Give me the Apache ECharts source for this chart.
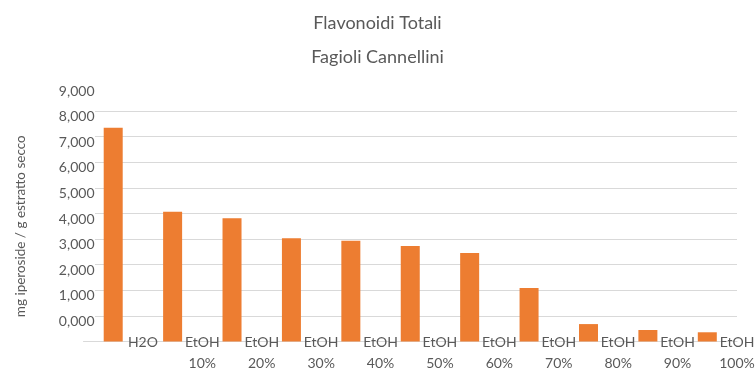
<!DOCTYPE html>
<html>
<head>
<meta charset="utf-8">
<title>Flavonoidi Totali - Fagioli Cannellini</title>
<script src="https://cdn.jsdelivr.net/npm/echarts@6/dist/echarts.min.js"></script>
<style>
  html, body { margin: 0; padding: 0; background: #ffffff; }
  #chart { width: 755px; height: 371px; }
</style>
</head>
<body>
<div id="chart"></div>
<script>
// Estratti: acqua e etanolo a concentrazioni crescenti
const categories = ['H2O', 'EtOH\n10%', 'EtOH\n20%', 'EtOH\n30%', 'EtOH\n40%', 'EtOH\n50%',
                    'EtOH\n60%', 'EtOH\n70%', 'EtOH\n80%', 'EtOH\n90%', 'EtOH\n100%'];
// mg iperoside / g estratto secco
const flavonoidi = [8.35, 5.07, 4.81, 4.03, 3.93, 3.73, 3.46, 2.09, 0.68, 0.45, 0.36];
const yMin = 0, yMax = 9, yStep = 1;

const textColor = '#595959';
const gridColor = '#d9d9d9';
const fontFamily = 'Lato, "Open Sans", sans-serif';

const gridLeft = 83.5, gridRight = 18, gridTop = 111, gridBottom = 29.5;
const catWidth = (755 - gridLeft - gridRight) / categories.length;

const chart = echarts.init(document.getElementById('chart'));
chart.setOption({
  animation: false,
  title: {
    text: 'Flavonoidi Totali\nFagioli Cannellini',
    left: 'center',
    top: 1,
    textStyle: { color: textColor, fontFamily, fontSize: 18, fontWeight: 'normal', lineHeight: 34 }
  },
  grid: [
    // bars, category axis and baseline
    { left: gridLeft, right: gridRight, top: gridTop, bottom: gridBottom, outerBoundsMode: 'none' },
    // value scale: gridlines and tick labels, starting right of the labels
    { left: 95, right: gridRight, top: gridTop, bottom: gridBottom, outerBoundsMode: 'none' }
  ],
  xAxis: [{
    type: 'category',
    gridIndex: 0,
    data: categories,
    boundaryGap: true,
    axisTick: { show: false },
    axisLine: { lineStyle: { color: gridColor, width: 1 } },
    axisLabel: {
      interval: 0,
      color: textColor,
      fontFamily,
      fontSize: 14,
      lineHeight: 21,
      margin: -10,
      padding: [0, 0, 0, catWidth]
    }
  }, {
    type: 'value',
    gridIndex: 1,
    show: false
  }],
  yAxis: [{
    type: 'value',
    gridIndex: 0,
    min: yMin,
    max: yMax,
    interval: yStep,
    name: 'mg iperoside / g estratto secco',
    nameLocation: 'middle',
    nameRotate: 90,
    nameGap: 56,
    nameTextStyle: { color: textColor, fontFamily, fontSize: 13.5 },
    axisLine: { show: false },
    axisTick: { show: false },
    axisLabel: { show: false },
    splitLine: { show: false }
  }, {
    type: 'value',
    gridIndex: 1,
    min: yMin,
    max: yMax,
    interval: yStep,
    axisLine: { show: false },
    axisTick: { show: false },
    splitLine: { lineStyle: { color: gridColor, width: 1 } },
    axisLabel: {
      color: textColor,
      fontFamily,
      fontSize: 14,
      margin: 0.5,
      verticalAlign: 'bottom',
      // value printed a little above its gridline
      formatter: v => '{v|' + v.toFixed(3).replace('.', ',') + '}\n{g| }',
      rich: {
        v: { fontFamily, fontSize: 14, color: textColor, lineHeight: 11 },
        g: { fontSize: 1, lineHeight: 14.5 }
      }
    }
  }],
  series: [{
    type: 'bar',
    xAxisIndex: 0,
    yAxisIndex: 0,
    data: flavonoidi,
    barWidth: 19,
    itemStyle: { color: '#ed7d31' }
  }]
});
</script>
</body>
</html>
